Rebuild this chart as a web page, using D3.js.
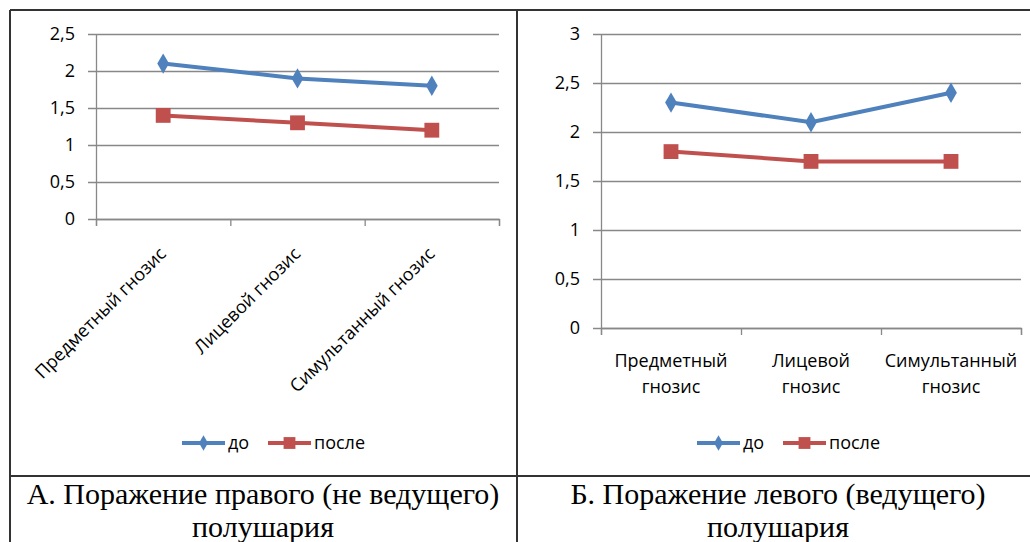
<!DOCTYPE html>
<html lang="ru">
<head>
    <meta charset="UTF-8">
    <title>Гнозис до и после</title>
    <script src="https://d3js.org/d3.v7.min.js"></script>
    <style>
        body { margin: 0; background: #fff; }
        svg text { fill: #000; }
        .tick-label { font-family: "Open Sans", sans-serif; font-size: 18px; }
    </style>
</head>
<body>
    <div id="chart"></div>

    <script>
        // data
        const categories = ["Предметный гнозис", "Лицевой гнозис", "Симультанный гнозис"];
        const seriesNames = ["до", "после"];
        const rightBefore = [2.1, 1.9, 1.8];
        const rightAfter = [1.4, 1.3, 1.2];
        const leftBefore = [2.3, 2.1, 2.4];
        const leftAfter = [1.8, 1.7, 1.7];
        const rightTicks = [0, 0.5, 1, 1.5, 2, 2.5];
        const leftTicks = [0, 0.5, 1, 1.5, 2, 2.5, 3];
        const captionA = ["А. Поражение правого (не ведущего)", "полушария"];
        const captionB = ["Б. Поражение левого (ведущего)", "полушария"];

        const colors = ["#4F81BD", "#C0504D"];
        const gridColor = "#888";

        const svg = d3.select("#chart")
            .append("svg")
            .attr("width", 1030)
            .attr("height", 542);

        // table borders
        const border = svg.append("g").attr("stroke", "#333").attr("stroke-width", 2);
        border.append("line").attr("x1", 10).attr("x2", 1030).attr("y1", 10).attr("y2", 10);
        border.append("line").attr("x1", 10).attr("x2", 10).attr("y1", 10).attr("y2", 542);
        border.append("line").attr("x1", 517).attr("x2", 517).attr("y1", 10).attr("y2", 542);
        border.append("line").attr("x1", 10).attr("x2", 1030).attr("y1", 476).attr("y2", 476);

        function drawPanel(opt) {
            const w = opt.right - opt.left;
            const h = opt.bottom - opt.top;
            const g = svg.append("g").attr("transform", `translate(${opt.left},${opt.top})`);

            const x = d3.scaleBand().domain(categories).range([0, w]);
            const y = d3.scaleLinear().domain([0, d3.max(opt.ticks)]).range([h, 0]);

            // gridlines + y labels
            const yAxis = g.append("g")
                .call(d3.axisLeft(y)
                    .tickValues(opt.ticks)
                    .tickSizeInner(-w)
                    .tickSizeOuter(0)
                    .tickPadding(21)
                    .tickFormat(d => String(d).replace(".", ",")));
            yAxis.selectAll(".tick line").attr("x1", -8).attr("stroke", gridColor).attr("stroke-width", 1.3);
            yAxis.select(".domain").attr("stroke", gridColor).attr("stroke-width", 1.3);
            yAxis.selectAll("text").attr("class", "tick-label").attr("fill", "#000");

            // x axis: tick marks on category boundaries
            const xb = d3.scaleLinear().domain([0, categories.length]).range([0, w]);
            const xAxis = g.append("g")
                .attr("transform", `translate(0,${h})`)
                .call(d3.axisBottom(xb).tickValues(d3.range(categories.length + 1)).tickSize(7).tickFormat(""));
            xAxis.selectAll("line").attr("stroke", gridColor).attr("stroke-width", 1.3);
            xAxis.select(".domain").attr("stroke", gridColor).attr("stroke-width", 1.3);

            // category labels
            if (opt.rotate) {
                g.selectAll(".cat")
                    .data(categories)
                    .join("text")
                    .attr("class", "tick-label")
                    .attr("text-anchor", "end")
                    .attr("transform", d => `translate(${x(d) + x.bandwidth() / 2 + 4},${h + 36}) rotate(-45)`)
                    .text(d => d);
            } else {
                const lab = g.selectAll(".cat")
                    .data(categories)
                    .join("text")
                    .attr("class", "tick-label")
                    .attr("text-anchor", "middle")
                    .attr("x", d => x(d) + x.bandwidth() / 2)
                    .attr("y", h + 39);
                lab.selectAll("tspan")
                    .data(d => d.split(" ").map(s => ({ s, x: x(d) + x.bandwidth() / 2 })))
                    .join("tspan")
                    .attr("x", d => d.x)
                    .attr("dy", (d, i) => i ? 26 : 0)
                    .text(d => d.s);
            }

            // lines and markers
            const line = d3.line()
                .x((d, i) => x(categories[i]) + x.bandwidth() / 2)
                .y(d => y(d));

            opt.series.forEach((vals, si) => {
                g.append("path")
                    .datum(vals)
                    .attr("fill", "none")
                    .attr("stroke", colors[si])
                    .attr("stroke-width", 4)
                    .attr("d", line);
                const sym = si === 0 ? d3.symbolDiamond : d3.symbolSquare;
                const size = si === 0 ? 120 : 220;
                g.selectAll(".m" + si)
                    .data(vals)
                    .join("path")
                    .attr("transform", (d, i) => `translate(${x(categories[i]) + x.bandwidth() / 2},${y(d)})`)
                    .attr("d", d3.symbol(sym, size))
                    .attr("fill", colors[si]);
            });

            // legend
            const lg = svg.append("g").attr("transform", `translate(${opt.legendX},443)`);
            const itemX = [0, 86];
            seriesNames.forEach((name, si) => {
                const it = lg.append("g").attr("transform", `translate(${itemX[si]},0)`);
                it.append("line").attr("x1", 0).attr("x2", 43).attr("stroke", colors[si]).attr("stroke-width", 4);
                it.append("path")
                    .attr("transform", "translate(21.5,0)")
                    .attr("d", d3.symbol(si === 0 ? d3.symbolDiamond : d3.symbolSquare, si === 0 ? 70 : 140))
                    .attr("fill", colors[si]);
                it.append("text")
                    .attr("class", "tick-label")
                    .attr("x", 46)
                    .attr("y", 6)
                    .text(name);
            });

            // caption (second line is cut by the page edge, as in the source)
            svg.append("text")
                .attr("font-family", "'Liberation Serif', 'DejaVu Serif', serif")
                .attr("font-size", 30)
                .attr("text-anchor", "middle")
                .attr("x", opt.captionX)
                .attr("y", 504)
                .selectAll("tspan")
                .data(opt.caption)
                .join("tspan")
                .attr("x", opt.captionX)
                .attr("dy", (d, i) => i ? 33 : 0)
                .text(d => d);
        }

        drawPanel({
            left: 96, right: 499, top: 34, bottom: 219,
            ticks: rightTicks,
            series: [rightBefore, rightAfter],
            rotate: true,
            legendX: 182,
            captionX: 263,
            caption: captionA
        });

        drawPanel({
            left: 601, right: 1021, top: 34, bottom: 328,
            ticks: leftTicks,
            series: [leftBefore, leftAfter],
            rotate: false,
            legendX: 697,
            captionX: 778,
            caption: captionB
        });
    </script>
</body>
</html>
